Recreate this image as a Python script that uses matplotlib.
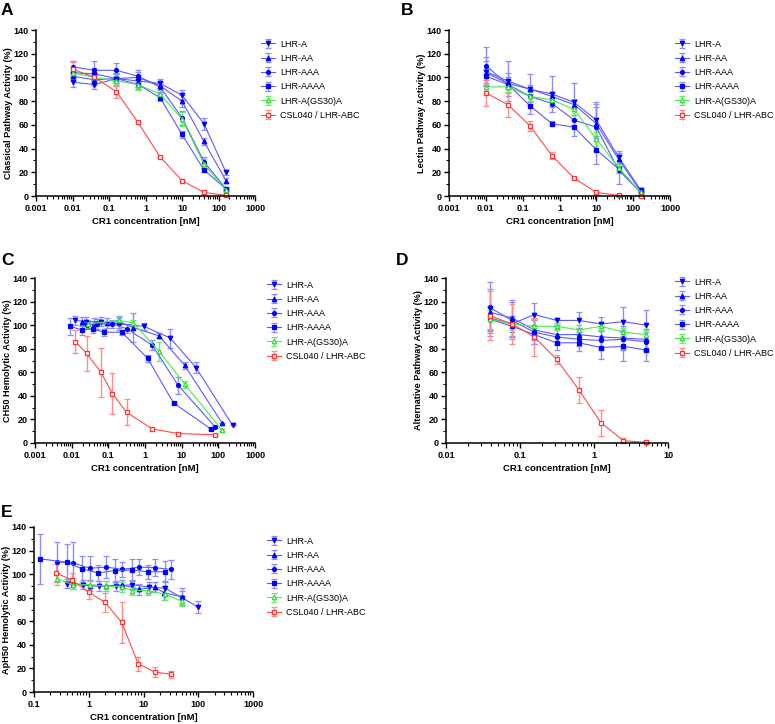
import numpy as np
import matplotlib.pyplot as plt

names = ['LHR-A', 'LHR-AA', 'LHR-AAA', 'LHR-AAAA', 'LHR-A(GS30)A', 'CSL040 / LHR-ABC']

# ---- panel A : classical pathway ----
a_x = [0.01, 0.04, 0.16, 0.625, 2.5, 10, 40, 160]
a_y = {
    'LHR-A': [96, 94, 99, 97, 95, 85, 61, 20],
    'LHR-AA': [101, 98, 99, 100, 93, 80, 46, 13],
    'LHR-AAA': [109, 106, 106, 101, 92, 66, 29, 6],
    'LHR-AAAA': [104, 103, 99, 94, 83, 52, 22, 6],
    'LHR-A(GS30)A': [104, 100, 97, 94, 86, 65, 27, 5],
    'CSL040 / LHR-ABC': [107, 100, 88, 62, 33, 13, 3, 0.5],
}
a_err = {
    'LHR-A': [4, 4, 5, 5, 4, 4, 5, 2],
    'LHR-AA': [4, 4, 4, 5, 4, 5, 3, 2],
    'LHR-AAA': [5, 8, 6, 5, 4, 6, 4, 2],
    'LHR-AAAA': [5, 5, 4, 4, 3, 3, 2, 1],
    'LHR-A(GS30)A': [3, 4, 4, 5, 4, 6, 4, 2],
    'CSL040 / LHR-ABC': [6, 4, 5, 1, 1, 1, 1, 1],
}

# ---- panel B : lectin pathway ----
b_x = [0.01, 0.04, 0.16, 0.625, 2.5, 10, 40, 160]
b_y = {
    'LHR-A': [105, 97, 90, 86, 79, 64, 33, 5],
    'LHR-AA': [104, 95, 90, 84, 77, 61, 31, 4],
    'LHR-AAA': [110, 94, 84, 78, 64, 58, 22, 3],
    'LHR-AAAA': [101, 94, 76, 61, 58, 39, 23, 3],
    'LHR-A(GS30)A': [92, 92, 84, 81, 73, 48, 24, 3],
    'CSL040 / LHR-ABC': [87, 77, 59, 34, 15, 3, 0.5, 0],
}
b_err = {
    'LHR-A': [12, 17, 13, 15, 16, 15, 5, 2],
    'LHR-AA': [10, 5, 4, 4, 4, 14, 4, 2],
    'LHR-AAA': [16, 10, 5, 3, 4, 20, 3, 1],
    'LHR-AAAA': [6, 4, 7, 2, 7, 12, 13, 2],
    'LHR-A(GS30)A': [6, 4, 4, 4, 9, 6, 3, 1],
    'CSL040 / LHR-ABC': [11, 10, 4, 3, 1, 1, 1, 1],
}

# ---- panel C : CH50 ----
c_x = {
    'LHR-A': [0.0127, 0.025, 0.063, 0.19, 0.94, 4.9, 24.6, 245],
    'LHR-AA': [0.0186, 0.04, 0.09, 0.2, 0.47, 2.4, 12, 126],
    'LHR-AAA': [0.0255, 0.05, 0.128, 0.316, 1.57, 8, 80],
    'LHR-AAAA': [0.0091, 0.0186, 0.037, 0.074, 0.235, 1.17, 6, 62],
    'LHR-A(GS30)A': [0.028, 0.19, 0.47, 2.4, 12, 126],
    'CSL040 / LHR-ABC': [0.0127, 0.0255, 0.063, 0.128, 0.316, 1.57, 8, 80],
}
c_y = {
    'LHR-A': [104, 103, 103, 101, 99, 89, 64, 15],
    'LHR-AA': [103, 101, 102, 103, 98, 91, 66, 17],
    'LHR-AAA': [100, 101, 101, 97, 83, 49, 14],
    'LHR-AAAA': [99, 96, 97, 94, 94, 72, 34, 12],
    'LHR-A(GS30)A': [101, 104, 102, 78, 50, 11],
    'CSL040 / LHR-ABC': [86, 76, 60, 42, 26, 12, 8, 7],
}
c_err = {
    'LHR-A': [4, 4, 4, 5, 3, 8, 5, 0],
    'LHR-AA': [4, 5, 4, 5, 12, 2, 3, 0],
    'LHR-AAA': [3, 4, 3, 4, 4, 7, 1],
    'LHR-AAAA': [7, 4, 4, 3, 2, 3, 1, 1],
    'LHR-A(GS30)A': [3, 3, 2, 8, 3, 1],
    'CSL040 / LHR-ABC': [10, 15, 21, 17, 11, 2, 1, 1],
}

# ---- panel D : alternative pathway ----
d_x = [0.039, 0.078, 0.156, 0.3125, 0.625, 1.25, 2.5, 5]
d_y = {
    'LHR-A': [106, 101, 109, 104, 104, 101, 103, 100],
    'LHR-AA': [111, 106, 96, 92, 92, 90, 89, 88],
    'LHR-AAA': [115, 104, 94, 90, 88, 87, 88, 86],
    'LHR-AAAA': [105, 99, 92, 85, 85, 81, 82, 79],
    'LHR-A(GS30)A': [105, 101, 99, 99, 96, 99, 94, 92],
    'CSL040 / LHR-ABC': [108, 101, 90, 71, 45, 17, 2, 0.5],
}
d_err = {
    'LHR-A': [10, 7, 10, 2, 7, 6, 12, 13],
    'LHR-AA': [20, 15, 9, 8, 6, 9, 10, 9],
    'LHR-AAA': [22, 16, 10, 7, 6, 8, 8, 8],
    'LHR-AAAA': [10, 9, 8, 6, 7, 10, 12, 9],
    'LHR-A(GS30)A': [8, 5, 6, 3, 4, 3, 4, 4],
    'CSL040 / LHR-ABC': [21, 17, 16, 4, 11, 11, 2, 1],
}

# ---- panel E : ApH50 ----
e_x = {
    'LHR-A': [0.4, 0.78, 1.56, 3.1, 6.25, 12.5, 25, 50, 100],
    'LHR-AA': [0.52, 1.05, 2.1, 4.1, 8.2, 16, 24, 50],
    'LHR-AAA': [0.26, 0.52, 1.05, 2.1, 4.1, 8.2, 16, 32],
    'LHR-AAAA': [0.13, 0.4, 0.75, 1.5, 3.0, 6.2, 12.1, 24.2],
    'LHR-A(GS30)A': [0.26, 0.52, 1.05, 2.1, 4.1, 6.2, 12.1, 24.2, 50],
    'CSL040 / LHR-ABC': [0.25, 0.5, 1, 2, 4, 8, 16, 32],
}
e_y = {
    'LHR-A': [92, 91, 90, 90, 91, 89, 88, 80, 72],
    'LHR-AA': [92, 90, 90, 91, 87, 89, 84, 81],
    'LHR-AAA': [110.5, 109.5, 105, 106, 104, 106, 105.5, 104],
    'LHR-AAAA': [113, 110, 104.5, 101, 103, 103.5, 102, 102],
    'LHR-A(GS30)A': [96, 91, 91, 90, 89, 86, 86, 83, 77],
    'CSL040 / LHR-ABC': [101, 95, 84.5, 76, 59, 24, 17, 15],
}
e_err = {
    'LHR-A': [4, 4, 4, 4, 4, 4, 6, 6, 5],
    'LHR-AA': [5, 4, 4, 4, 5, 4, 6, 7],
    'LHR-AAA': [17, 18, 10, 9, 6, 7, 7, 8],
    'LHR-AAAA': [21, 16, 11, 7, 10, 9, 6, 9],
    'LHR-A(GS30)A': [5, 4, 3, 4, 4, 4, 4, 5, 4],
    'CSL040 / LHR-ABC': [8, 6, 6, 8, 17, 6, 4, 3],
}

styles = {
    'LHR-A': dict(marker='v', mfc='#0000ff', mec='#0000ff', color='#5a5aff'),
    'LHR-AA': dict(marker='^', mfc='#0000ff', mec='#0000ff', color='#5a5aff'),
    'LHR-AAA': dict(marker='o', mfc='#0000ff', mec='#0000ff', color='#5a5aff'),
    'LHR-AAAA': dict(marker='s', mfc='#0000ff', mec='#0000ff', color='#5a5aff'),
    'LHR-A(GS30)A': dict(marker='^', mfc='white', mec='#33dd33', color='#44ee44'),
    'CSL040 / LHR-ABC': dict(marker='s', mfc='white', mec='#ff3333', color='#ff4a4a'),
}
ecolors = {'LHR-A': '#8c8cff', 'LHR-AA': '#8c8cff', 'LHR-AAA': '#8c8cff',
           'LHR-AAAA': '#8c8cff', 'LHR-A(GS30)A': '#66ee66', 'CSL040 / LHR-ABC': '#ff8c8c'}

W, H = 775, 724
fig = plt.figure(figsize=(W / 100, H / 100), dpi=100)
plt.rcParams['font.family'] = 'Liberation Sans'


def px_axes(l, t, r, b):
    return fig.add_axes([l / W, 1 - b / H, (r - l) / W, (b - t) / H]), l, r


def draw(axinfo, xs, ys, errs, xlim, ylabel, letter, letter_xy, leg_xy):
    ax, l, r = axinfo
    for n in names:
        x = xs[n] if isinstance(xs, dict) else xs
        st = styles[n]
        ms = 3.2 if st['marker'] in ('v', '^') else 2.8
        ax.errorbar(x, ys[n], yerr=errs[n], color=st['color'], marker=st['marker'],
                    mfc=st['mfc'], mec=st['mec'], ms=ms, lw=0.8, mew=0.9,
                    ecolor=ecolors[n], elinewidth=1.0, capsize=2, capthick=1.0,
                    label=n, clip_on=False)
    ax.set_xscale('log')
    ax.set_xlim(*xlim)
    decades = 10.0 ** np.arange(round(np.log10(xlim[0])), round(np.log10(xlim[1])) + 1)
    ax.set_xticks(decades)
    ax.set_xticks([d * k for d in decades[:-1] for k in range(2, 10)], minor=True)
    ax.set_xticklabels([f'{v:g}' for v in decades])
    ax.set_ylim(0, 140)
    ax.set_yticks(range(0, 141, 20))
    ax.set_yticks(range(0, 141, 10), minor=True)
    for s in ['top', 'right']:
        ax.spines[s].set_visible(False)
    for s in ['left', 'bottom']:
        ax.spines[s].set_linewidth(1.1)
    ax.tick_params(which='major', length=3.5, width=1.0, labelsize=6.5, pad=2)
    ax.tick_params(which='minor', length=2, width=0.8)
    for lab in ax.get_xticklabels() + ax.get_yticklabels():
        lab.set_fontweight('bold')
    ax.set_ylabel(ylabel, fontsize=6.6, fontweight='bold')
    # right edge of the rotated label about 23 px left of the y axis
    ax.yaxis.set_label_coords(-23 / (r - l), 0.5)
    ax.set_xlabel('CR1 concentration [nM]', fontsize=6.8, fontweight='bold', labelpad=3)
    fig.text(letter_xy[0] / W, 1 - letter_xy[1] / H, letter, fontsize=12.5,
             fontweight='bold', va='top', ha='left')
    ax.legend(loc='upper left', bbox_to_anchor=(leg_xy[0] / W, 1 - leg_xy[1] / H),
              bbox_transform=fig.transFigure, frameon=False, fontsize=6.5,
              handlelength=1.6, handletextpad=0.6, labelspacing=0.58, borderaxespad=0)


draw(px_axes(36, 30, 255, 196), a_x, a_y, a_err, (0.001, 1000),
     'Classical Pathway Activity (%)', 'A', (1, 3), (257, 36))
draw(px_axes(449, 30, 670, 196), b_x, b_y, b_err, (0.001, 1000),
     'Lectin Pathway Activity (%)', 'B', (401, 3), (671, 36))
draw(px_axes(35, 278, 255, 443), c_x, c_y, c_err, (0.001, 1000),
     'CH50 Hemolytic Activity (%)', 'C', (1, 253), (263, 277))
draw(px_axes(446, 278, 668, 443), d_x, d_y, d_err, (0.01, 10),
     'Alternative Pathway Activity (%)', 'D', (396, 253), (671, 274))
draw(px_axes(34, 527, 253, 692), e_x, e_y, e_err, (0.1, 1000),
     'ApH50 Hemolytic Activity (%)', 'E', (1, 505), (263, 533))

fig.savefig('out.png', dpi=100)
